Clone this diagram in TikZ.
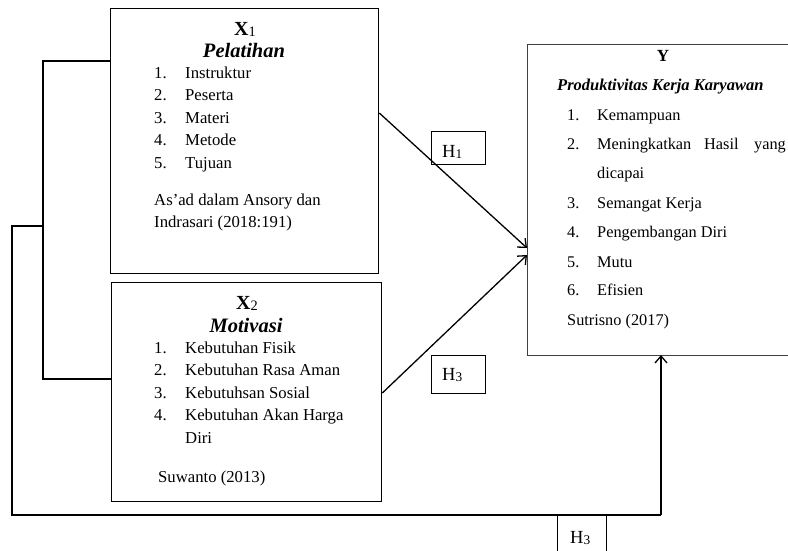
\documentclass[tikz,border=0pt]{standalone}
\usepackage{fontspec}
\setmainfont{Liberation Serif}
\usetikzlibrary{arrows.meta,calc}
\newcommand{\lowsub}[1]{\raisebox{-0.08em}{\mdseries\upshape\scalebox{0.72}{#1}}}
\begin{document}
\begin{tikzpicture}[x=1pt,y=-1pt,
  box/.style={draw,line width=1.3pt,inner sep=0pt,anchor=north west},
  ybox/.style={draw=black!75,line width=0.9pt},
  hbox/.style={draw,line width=0.9pt,inner sep=0pt,anchor=north west},
  conn/.style={line width=1.3pt},
  arr/.style={conn,-{Straight Barb[length=7pt,width=12pt,line width=1.3pt]}},
  txt/.style={inner sep=0pt,anchor=base west,font=\fontsize{16.7}{20}\selectfont},
  htxt/.style={inner sep=0pt,anchor=base west,font=\fontsize{18.5}{22}\selectfont},
  head/.style={inner sep=0pt,anchor=base,font=\fontsize{20}{23}\selectfont\bfseries},
  ytxt/.style={inner sep=0pt,anchor=base west,font=\fontsize{16.3}{20}\selectfont}
]
\useasboundingbox (0,0) rectangle (788,550);
\clip (0,0) rectangle (788,550);

% boxes
\node[box,minimum width=268pt,minimum height=265pt] (x1) at (110,8) {};
\node[box,minimum width=270pt,minimum height=219pt] (x2) at (111,282) {};
\node[ybox,inner sep=0pt,anchor=north west,minimum width=290pt,minimum height=311pt] (y) at (527,44) {};

% H boxes
\node[hbox,minimum width=54pt,minimum height=33pt] (h1) at (431,131) {};
\node[hbox,minimum width=54pt,minimum height=38pt] (h3a) at (431,355) {};
\node[hbox,minimum width=49pt,minimum height=40pt] (h3b) at (557,515) {};
\node[htxt] at (442,157) {H\lowsub{1}};
\node[htxt] at (442,380) {H\lowsub{3}};
\node[htxt] at (570,543) {H\lowsub{3}};

% X1 text
\node[head] at (245,35) {X\lowsub{1}};
\node[head,font=\fontsize{20.5}{23}\selectfont\bfseries\itshape] at (244,57) {Pelatihan};
\foreach \n/\t/\b in {1/Instruktur/78,2/Peserta/100.5,3/Materi/123,4/Metode/145.5,5/Tujuan/168}{
  \node[txt] at (154,\b) {\n.};
  \node[txt] at (185,\b) {\t};
}
\node[txt] at (154,205) {As’ad dalam Ansory dan};
\node[txt] at (154,227) {Indrasari (2018:191)};

% X2 text
\node[head] at (247,309) {X\lowsub{2}};
\node[head,font=\fontsize{20.5}{23}\selectfont\bfseries\itshape] at (246,332) {Motivasi};
\foreach \n/\t/\b in {1/Kebutuhan Fisik/353,2/Kebutuhan Rasa Aman/375.5,3/Kebutuhsan Sosial/398,4/Kebutuhan Akan Harga/420.5}{
  \node[txt] at (154,\b) {\n.};
  \node[txt] at (185,\b) {\t};
}
\node[txt] at (185,443) {Diri};
\node[txt] at (158,482) {Suwanto (2013)};

% Y text
\node[head,font=\fontsize{17}{20}\selectfont\bfseries] at (663,61) {Y};
\node[ytxt,font=\fontsize{16.5}{20}\selectfont\bfseries\itshape] at (557,90) {Produktivitas Kerja Karyawan};
\foreach \n/\t/\b in {1/Kemampuan/120,3/Semangat Kerja/208,4/Pengembangan Diri/237,5/Mutu/267,6/Efisien/295}{
  \node[ytxt] at (567,\b) {\n.};
  \node[ytxt] at (597,\b) {\t};
}
\node[ytxt] at (567,149) {2.};
\node[ytxt] at (597,149) {Meningkatkan};
\node[ytxt] at (704,149) {Hasil};
\node[ytxt] at (754,149) {yang};
\node[ytxt] at (597,178) {dicapai};
\node[ytxt] at (567,325) {Sutrisno (2017)};

% connectors
\coordinate (a1) at ($(x1.north west)+(0,53)$);
\coordinate (a2) at ($(x1.north west)+(-67,53)$);
\coordinate (a3) at ($(x2.north west)+(-68,97)$);
\coordinate (a4) at ($(x2.north west)+(0,97)$);
\draw[conn] (a1) -- (a2) -- (a3) -- (a4);
\coordinate (b1) at (43,226);
\coordinate (b2) at (12,226);
\coordinate (b3) at (12,515);
\coordinate (b4) at (661,515);
\coordinate (yb) at (661,355);
\draw[conn] (b1) -- (b2) -- (b3) -- (b4);
\draw[arr] (b4) -- (yb);
\coordinate (e1) at ($(x1.north east)+(0,105)$);
\coordinate (t1) at ($(y.north west)+(0,204)$);
\draw[arr] (e1) -- (t1);
\coordinate (e2) at ($(x2.north east)+(0,111)$);
\coordinate (t2) at ($(y.north west)+(0,211)$);
\draw[arr] (e2) -- (t2);
\end{tikzpicture}
\end{document}
